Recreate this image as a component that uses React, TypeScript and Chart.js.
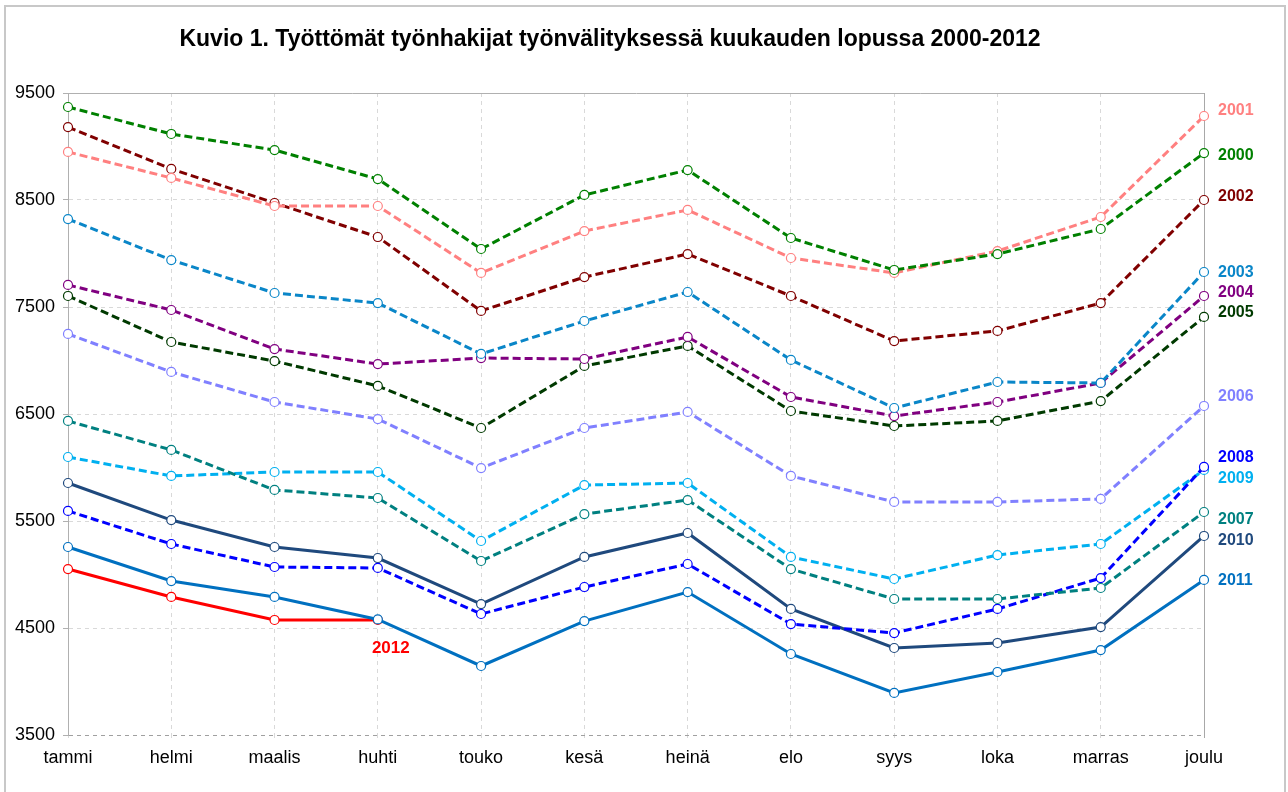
import React, { useEffect, useRef } from "react";
import { Chart, registerables } from "chart.js";

Chart.register(...registerables);

const titleText = "Kuvio 1. Työttömät työnhakijat työnvälityksessä kuukauden lopussa 2000-2012";
const months = ["tammi", "helmi", "maalis", "huhti", "touko", "kesä", "heinä", "elo", "syys", "loka", "marras", "joulu"];
const yTicks = [3500, 4500, 5500, 6500, 7500, 8500, 9500];

const y2000 = [9369, 9117, 8967, 8696, 8042, 8547, 8780, 8145, 7846, 7995, 8229, 8939];
const y2001 = [8949, 8706, 8444, 8444, 7818, 8210, 8407, 7958, 7818, 8023, 8341, 9285];
const y2002 = [9182, 8790, 8472, 8154, 7463, 7780, 7995, 7603, 7182, 7276, 7537, 8500];
const y2003 = [8322, 7939, 7631, 7537, 7061, 7369, 7640, 7005, 6556, 6799, 6790, 7827];
const y2004 = [7706, 7472, 7107, 6967, 7023, 7014, 7220, 6659, 6481, 6612, 6790, 7603];
const y2005 = [7603, 7173, 6995, 6762, 6369, 6949, 7136, 6528, 6388, 6435, 6621, 7407];
const y2006 = [7248, 6893, 6612, 6453, 5995, 6369, 6519, 5921, 5678, 5678, 5706, 6575];
const y2007 = [6435, 6164, 5790, 5715, 5126, 5565, 5696, 5051, 4771, 4771, 4874, 5584];
const y2008 = [5594, 5285, 5070, 5061, 4631, 4883, 5098, 4537, 4453, 4678, 4967, 6005];
const y2009 = [6098, 5921, 5958, 5958, 5313, 5836, 5855, 5164, 4958, 5182, 5285, 5977];
const y2010 = [5855, 5509, 5257, 5154, 4724, 5164, 5388, 4678, 4313, 4360, 4509, 5360];
const y2011 = [5257, 4939, 4790, 4580, 4145, 4565, 4836, 4257, 3893, 4089, 4294, 4949];
const y2012 = [5051, 4790, 4575, 4575];

const years = ["2000", "2001", "2002", "2003", "2004", "2005", "2006", "2007", "2008", "2009", "2010", "2011", "2012"];
const seriesValues = [y2000, y2001, y2002, y2003, y2004, y2005, y2006, y2007, y2008, y2009, y2010, y2011, y2012];
const colors = ["#008000", "#FF8080", "#800000", "#0A86C8", "#800080", "#003A00", "#8080FF", "#008080", "#0000FF", "#00B0F0", "#1F497D", "#0070C0", "#FF0000"];
const dashed = [true, true, true, true, true, true, true, true, true, true, false, false, false];
// label vertical nudges (px) relative to last point
const labelNudge = [3, -5, -3, 1, -3, -4, -9, 8, -9, 9, 5, 1, 0];

const FONT = "'Liberation Sans', Arial, sans-serif";

const framePlugin = {
  id: "frame",
  beforeDraw(chart: any) {
    const ctx = chart.ctx;
    ctx.save();
    ctx.fillStyle = "#ffffff";
    ctx.fillRect(0, 0, chart.width, chart.height);
    ctx.strokeStyle = "#C8C8C8";
    ctx.lineWidth = 2;
    ctx.strokeRect(5, 6, 1280, 800);
    ctx.restore();
  },
};

const titlePlugin = {
  id: "customTitle",
  afterDraw(chart: any) {
    const ctx = chart.ctx;
    ctx.save();
    ctx.font = `bold 23px ${FONT}`;
    ctx.fillStyle = "#000";
    ctx.textAlign = "center";
    ctx.textBaseline = "alphabetic";
    ctx.fillText(titleText, 610, 46);
    ctx.restore();
  },
};

const labelPlugin = {
  id: "yearLabels",
  afterDatasetsDraw(chart: any) {
    const ctx = chart.ctx;
    const xs = chart.scales.x;
    const ys = chart.scales.y;
    ctx.save();
    ctx.textBaseline = "middle";
    seriesValues.forEach((vals, i) => {
      const lastIdx = vals.length - 1;
      const px = xs.getPixelForValue(lastIdx);
      const py = ys.getPixelForValue(vals[lastIdx]);
      ctx.fillStyle = colors[i];
      if (years[i] === "2012") {
        ctx.font = `bold 17px ${FONT}`;
        ctx.textAlign = "center";
        ctx.fillText(years[i], px + 13, py + 28);
      } else {
        ctx.font = `bold 16px ${FONT}`;
        ctx.textAlign = "left";
        ctx.fillText(years[i], px + 14, py + labelNudge[i]);
      }
    });
    ctx.restore();
  },
};

export default function App() {
  const ref = useRef<HTMLCanvasElement>(null);
  useEffect(() => {
    if (!ref.current) return;
    const lastX = months.length - 1;
    const chart = new Chart(ref.current, {
      type: "line",
      data: {
        labels: months,
        datasets: seriesValues.map((vals, i) => ({
          label: years[i],
          data: vals,
          borderColor: colors[i],
          borderWidth: 3,
          borderDash: dashed[i] ? [8, 4] : [],
          pointRadius: 4.5,
          pointHoverRadius: 4.5,
          pointBorderWidth: 1.2,
          pointBorderColor: colors[i],
          pointBackgroundColor: "#ffffff",
          tension: 0,
          fill: false,
          clip: false as any,
        })),
      },
      options: {
        responsive: false,
        animation: false,
        devicePixelRatio: 1,
        layout: { padding: { left: 0, top: 93, right: 84, bottom: 17 } },
        plugins: {
          legend: { display: false },
          title: { display: false },
          tooltip: { enabled: false },
        },
        scales: {
          x: {
            type: "category",
            offset: false,
            afterFit: (s: any) => {
              s.height = 40;
            },
            grid: {
              color: (c: any) => (c.index === lastX ? "#A8A8A8" : "#D9D9D9"),
              lineWidth: 1,
              tickLength: 6,
              tickBorderDash: [3, 3],
            },
            border: {
              display: false,
              dash: (c: any) => (c.index === lastX ? [] : [4, 4]),
            },
            ticks: {
              color: "#000",
              font: { family: FONT, size: 18 },
              padding: 6,
              maxRotation: 0,
              autoSkip: false,
            },
          },
          y: {
            min: 3500,
            max: 9500,
            afterFit: (s: any) => {
              s.width = 68;
            },
            afterBuildTicks: (s: any) => {
              s.ticks = yTicks.map((v) => ({ value: v }));
            },
            grid: {
              color: (c: any) =>
                c.tick && c.tick.value === 9500 ? "#B0B0B0" : c.tick && c.tick.value === 3500 ? "#A0A0A0" : "#D9D9D9",
              lineWidth: 1,
              tickLength: 5,
              tickColor: "#B0B0B0",
            },
            border: {
              display: true,
              color: "#B0B0B0",
              width: 1,
              dash: (c: any) => (c.tick && c.tick.value === 9500 ? [] : [4, 4]),
            },
            ticks: {
              color: "#000",
              font: { family: FONT, size: 18 },
              padding: 8,
              callback: (v: any) => String(v),
            },
          },
        },
      },
      plugins: [framePlugin, titlePlugin, labelPlugin],
    });
    return () => chart.destroy();
  }, []);
  return (
    <div style={{ position: "fixed", left: 0, top: 0, width: 1288, height: 792, background: "#fff" }}>
      <canvas ref={ref} width={1288} height={792} style={{ display: "block", width: 1288, height: 792 }} />
    </div>
  );
}
